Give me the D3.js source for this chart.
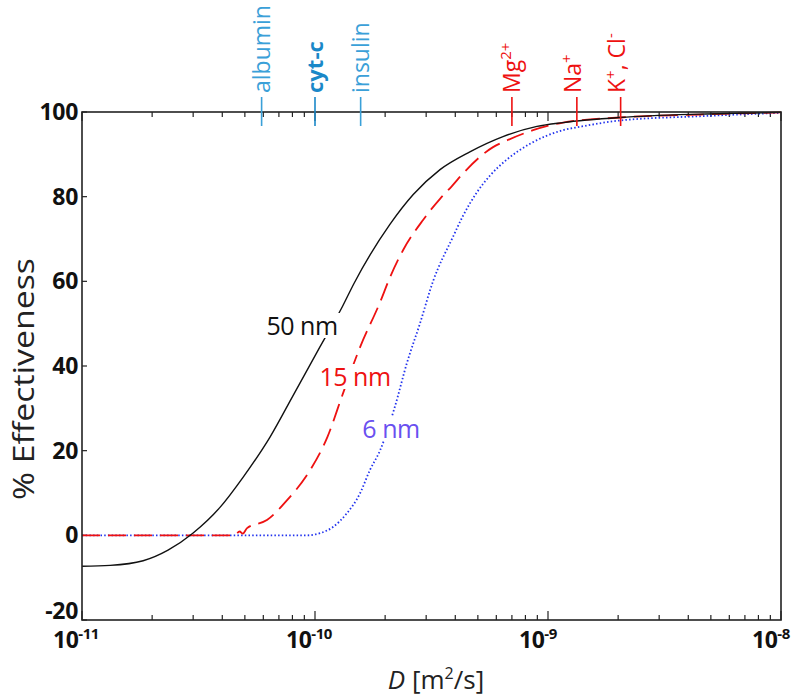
<!DOCTYPE html>
<html><head><meta charset="utf-8">
<script src="https://cdn.jsdelivr.net/npm/d3@7"></script>
<style>body{margin:0;background:#fff}svg{display:block}</style>
</head><body>
<svg id="c" width="799" height="699"></svg>
<script>
// ---- data ----
const xTicks = [1e-11, 1e-10, 1e-9, 1e-8];
const xTickExps = ["-11", "-10", "-9", "-8"];
const yTicks = [-20, 0, 20, 40, 60, 80, 100];

const seriesNames = ["50 nm", "15 nm", "6 nm"];

const d50 = [1.0e-11, 1.32e-11, 1.83e-11, 2.34e-11, 2.99e-11, 3.91e-11, 4.91e-11, 6.41e-11, 8.05e-11, 1.05e-10, 1.31e-10, 1.47e-10, 2.10e-10, 2.64e-10, 3.44e-10, 4.62e-10, 6.41e-10, 8.97e-10, 1.16e-9, 2.04e-9, 4.49e-9, 1.0e-8];
const e50 = [-7.3, -7.1, -6.0, -3.5, 0.5, 6.6, 13.7, 23.2, 33.0, 44.5, 54.0, 59.5, 73.5, 80.5, 86.4, 90.6, 94.2, 96.6, 97.5, 98.7, 99.5, 99.9];

const d15 = [1.0e-11, 4.5e-11, 4.75e-11, 4.9e-11, 5.11e-11, 6.22e-11, 7.59e-11, 9.53e-11, 1.13e-10, 1.32e-10, 1.56e-10, 1.90e-10, 2.10e-10, 2.39e-10, 2.91e-10, 3.44e-10, 3.87e-10, 4.32e-10, 5.81e-10, 6.67e-10, 8.63e-10, 1.16e-9, 2.04e-9, 4.49e-9, 1.0e-8];
const e15 = [0, 0, 0.9, 0.4, 1.7, 3.6, 8.3, 15.4, 23.2, 33.6, 44.4, 55, 61, 67.4, 74.5, 79.5, 82.5, 85.5, 91.7, 93.3, 95.7, 97.5, 98.7, 99.4, 99.9];

const d6 = [1.0e-11, 5.0e-11, 9.2e-11, 1.05e-10, 1.19e-10, 1.37e-10, 1.56e-10, 1.72e-10, 1.90e-10, 2.20e-10, 2.48e-10, 2.82e-10, 3.21e-10, 3.91e-10, 4.32e-10, 4.95e-10, 5.64e-10, 6.67e-10, 8.38e-10, 1.16e-9, 1.37e-9, 2.04e-9, 4.49e-9, 1.0e-8];
const e6 = [0, 0, 0, 0.5, 1.9, 5.2, 9.9, 15.4, 20, 30.3, 40.7, 50, 60, 70.5, 75.5, 81, 85, 88.8, 92.5, 95.7, 96.5, 98.0, 99.0, 99.8];

const markerNames = ["albumin", "cyt-c", "insulin", "Mg", "Na", "K"];
const markerD = [5.9e-11, 1.0e-10, 1.57e-10, 7.0e-10, 1.33e-9, 2.05e-9];

// ---- layout ----
const svg = d3.select("#c");
const L = 82, R = 781, T = 112, B = 620;
const x = d3.scaleLog().domain([1e-11, 1e-8]).range([L, R]);
const y = d3.scaleLinear().domain([-20, 100]).range([B, T]);

const font = "'Open Sans', 'DejaVu Sans', sans-serif";

// minor ticks (bottom & top, inward)
const minor = [];
for (let e = -11; e < -8; e++) for (let m = 2; m <= 9; m++) minor.push(m * Math.pow(10, e));
const g = svg.append("g");
minor.forEach(v => {
  g.append("line").attr("x1", x(v)).attr("x2", x(v)).attr("y1", B).attr("y2", B - 5).attr("stroke", "#222").attr("stroke-width", 1.2);
  g.append("line").attr("x1", x(v)).attr("x2", x(v)).attr("y1", T).attr("y2", T + 5).attr("stroke", "#222").attr("stroke-width", 1.2);
});
xTicks.forEach(v => {
  g.append("line").attr("x1", x(v)).attr("x2", x(v)).attr("y1", B).attr("y2", B - 9).attr("stroke", "#222").attr("stroke-width", 1.2);
  g.append("line").attr("x1", x(v)).attr("x2", x(v)).attr("y1", T).attr("y2", T + 9).attr("stroke", "#222").attr("stroke-width", 1.2);
});
yTicks.forEach(v => {
  g.append("line").attr("x1", L).attr("x2", L + 5).attr("y1", y(v)).attr("y2", y(v)).attr("stroke", "#222").attr("stroke-width", 1.2);
});

// x tick labels
xTicks.forEach((v, i) => {
  const t = svg.append("text").attr("x", x(v) - 29).attr("y", 648).attr("text-anchor", "start")
    .attr("font-family", font).attr("font-weight", "bold").attr("font-size", 23).attr("fill", "#111")
    .attr("letter-spacing", -0.5);
  t.append("tspan").text("10");
  t.append("tspan").attr("dy", -9).attr("font-size", 15).text(xTickExps[i]);
});
// y tick labels
yTicks.forEach(v => {
  svg.append("text").attr("x", 78).attr("y", y(v) + 8 - (v === -20 ? 9 : 0)).attr("text-anchor", "end")
    .attr("font-family", font).attr("font-weight", "bold").attr("font-size", 23).attr("fill", "#111")
    .attr("letter-spacing", -0.3).text(v);
});

// axis titles
svg.append("text").attr("transform", "translate(34,379) rotate(-90)").attr("text-anchor", "middle")
  .attr("font-family", font).attr("font-size", 29).attr("fill", "#222")
  .attr("textLength", 242).attr("lengthAdjust", "spacingAndGlyphs").text("% Effectiveness");
const xt = svg.append("text").attr("x", 436).attr("y", 689).attr("text-anchor", "middle")
  .attr("font-family", font).attr("font-size", 26).attr("fill", "#222");
xt.append("tspan").attr("font-style", "italic").text("D");
xt.append("tspan").text(" [m");
xt.append("tspan").attr("dy", -10).attr("font-size", 16).text("2");
xt.append("tspan").attr("dy", 10).text("/s]");

// curves
const line = d3.line().x(d => x(d[0])).y(d => y(d[1])).curve(d3.curveMonotoneX);
svg.append("clipPath").attr("id", "pc").append("rect").attr("x", L).attr("y", T - 2).attr("width", R - L).attr("height", B - T + 2);
svg.append("path").datum(d6.map((d, i) => [d, e6[i]])).attr("d", line).attr("fill", "none")
  .attr("stroke", "#2233ee").attr("stroke-width", 1.8).attr("stroke-dasharray", "1.5,2.2").attr("clip-path", "url(#pc)");
svg.append("path").datum(d15.map((d, i) => [d, e15[i]])).attr("d", line).attr("fill", "none")
  .attr("stroke", "#ee1111").attr("stroke-width", 1.8).attr("stroke-dasharray", "18,8").attr("clip-path", "url(#pc)");
svg.append("path").datum(d50.map((d, i) => [d, e50[i]])).attr("d", line).attr("fill", "none")
  .attr("stroke", "#111").attr("stroke-width", 1.4).attr("clip-path", "url(#pc)");

// curve labels with white backgrounds
const lbl = [
  {t: seriesNames[0], x: 302, y: 335, c: "#111"},
  {t: seriesNames[1], x: 355, y: 386, c: "#ee1111"},
  {t: seriesNames[2], x: 391, y: 438, c: "#6a50f0"}
];
lbl.forEach(l => {
  const t = svg.append("text").attr("x", l.x).attr("y", l.y).attr("text-anchor", "middle")
    .attr("font-family", font).attr("font-size", 25).attr("fill", l.c).attr("letter-spacing", -0.5).text(l.t);
  const bb = t.node().getBBox();
  svg.append("rect").attr("x", bb.x - 3).attr("y", bb.y + 5).attr("width", bb.width + 6).attr("height", bb.height - 9).attr("fill", "#fff");
  t.raise();
});

// frame
svg.append("rect").attr("x", L).attr("y", T).attr("width", R - L).attr("height", B - T)
  .attr("fill", "none").attr("stroke", "#222").attr("stroke-width", 1.6);

// top markers
const markerColors = ["#3aa0d8", "#1a88c8", "#3aa0d8", "#ee1111", "#ee1111", "#ee1111"];
markerD.forEach((v, i) => {
  const px = x(v);
  svg.append("line").attr("x1", px).attr("x2", px).attr("y1", 97).attr("y2", 126)
    .attr("stroke", markerColors[i]).attr("stroke-width", 1.6);
  const t = svg.append("text").attr("transform", `translate(${px + 8},93) rotate(-90)`)
    .attr("font-family", font).attr("font-size", 23).attr("fill", markerColors[i]);
  const n = markerNames[i];
  if (n === "cyt-c") { t.attr("font-weight", "bold").attr("font-size", 22).text(n); }
  else if (n === "Mg") { t.append("tspan").text("Mg"); t.append("tspan").attr("dy", -9).attr("font-size", 15).text("2+"); }
  else if (n === "Na") { t.attr("y", -4); t.append("tspan").text("Na"); t.append("tspan").attr("dy", -9).attr("font-size", 15).text("+"); }
  else if (n === "K") {
    t.attr("y", -4);
    t.append("tspan").text("K"); t.append("tspan").attr("dy", -9).attr("font-size", 15).text("+");
    t.append("tspan").attr("dy", 9).text(", Cl"); t.append("tspan").attr("dy", -9).attr("font-size", 15).text("-");
  } else t.text(n);
});
</script>
</body></html>
